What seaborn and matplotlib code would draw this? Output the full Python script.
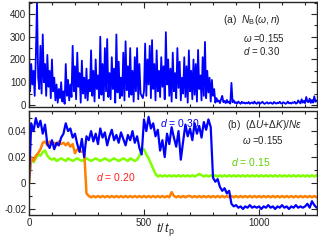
import numpy as np
import pandas as pd
import seaborn as sns
import matplotlib.pyplot as plt
from matplotlib.ticker import MultipleLocator

# --- datos ---
# panel (a): N_B(w, n), un valor cada 5 t_p (0 .. 1250)
t_top = np.arange(0, 1251, 5)
nb_vals = [
    240, 60, 180, 90, 150, 40, 210, 455, 120, 70,
    260, 50, 310, 100, 180, 40, 220, 80, 150, 30,
    200, 60, 120, 20, 90, 10, 70, 30, 100, 15,
    60, 5, 180, 40, 110, 20, 90, 35, 260, 60,
    170, 25, 230, 80, 140, 10, 195, 50, 120, 30,
    160, 20, 110, 60, 240, 40, 150, 15, 200, 70,
    130, 30, 300, 45, 180, 20, 250, 60, 290, 35,
    140, 25, 210, 70, 160, 10, 310, 55, 190, 30,
    120, 40, 230, 20, 280, 65, 170, 35, 250, 45,
    150, 15, 210, 60, 250, 25, 180, 50, 40, 30,
    60, 270, 40, 200, 90, 260, 30, 285, 70, 180,
    20, 240, 60, 150, 35, 210, 80, 170, 25, 320,
    90, 200, 40, 160, 15, 230, 60, 140, 30, 250,
    75, 190, 20, 120, 50, 210, 35, 170, 10, 240,
    60, 150, 25, 200, 45, 180, 15, 242, 70, 130,
    20, 210, 40, 277, 30, 150, 55, 120, 15, 110,
    40, 70, 10, 30, 15, 20, 8, 25, 40, 12,
    18, 8, 22, 10, 15, 6, 97, 12, 20, 8,
    12, 6, 15, 9, 5, 14, 8, 11, 6, 10,
    7, 13, 5, 9, 11, 6, 15, 8, 5, 12,
    8, 6, 10, 14, 7, 5, 9, 12, 6, 8,
    11, 7, 5, 13, 9, 6, 10, 8, 14, 7,
    6, 12, 9, 5, 8, 15, 7, 10, 6, 11,
    9, 14, 6, 8, 20, 12, 7, 25, 10, 18,
    8, 35, 15, 12, 28, 9, 22, 10, 38, 14, 20,
]

# panel (b): (dU+dK)/N eps, un valor cada 10 t_p
t_bot = np.arange(0, 1251, 10)
e_d30 = [
    0.000, 0.046, 0.040, 0.050, 0.043, 0.048, 0.038, 0.045, 0.030, 0.027,
    0.033, 0.026, 0.031, 0.029, 0.035, 0.038, 0.046, 0.040, 0.042, 0.035,
    0.038, 0.030, 0.024, 0.034, 0.020, 0.036, 0.033, 0.040, 0.032, 0.038,
    0.030, 0.042, 0.035, 0.039, 0.029, 0.036, 0.041, 0.033, 0.037, 0.031,
    0.039, 0.034, 0.029, 0.037, 0.033, 0.040, 0.031, 0.036, 0.027, 0.022,
    0.049, 0.040, 0.051, 0.042, 0.046, 0.036, 0.041, 0.025, 0.033, 0.020,
    0.038, 0.030, 0.043, 0.035, 0.028, 0.040, 0.018, 0.032, 0.045, 0.036,
    0.042, 0.033, 0.046, 0.038, 0.044, 0.035, 0.047, 0.041, 0.049, 0.043,
    0.004, 0.001, 0.003, -0.003, -0.006, -0.004, -0.008, -0.006, -0.016, -0.018,
    -0.017, -0.019, -0.018, -0.020, -0.018, -0.019, -0.017, -0.019, -0.018, -0.019,
    -0.018, -0.020, -0.018, -0.019, -0.017, -0.019, -0.018, -0.020, -0.018, -0.019,
    -0.017, -0.019, -0.018, -0.020, -0.018, -0.019, -0.017, -0.019, -0.018, -0.019,
    -0.018, -0.016, -0.019, -0.014, -0.017, -0.019,
]
e_d20 = [
    0.000, 0.020, 0.017, 0.021, 0.023, 0.026, 0.031, 0.032, 0.029, 0.032,
    0.030, 0.031, 0.029, 0.032, 0.030, 0.031, 0.029, 0.031, 0.028, 0.030,
    0.023, 0.026, 0.025, 0.024, 0.025, -0.008, -0.010, -0.011, -0.010, -0.011,
    -0.010, -0.011, -0.010, -0.011, -0.010, -0.011, -0.010, -0.011, -0.010, -0.011,
    -0.010, -0.011, -0.010, -0.011, -0.010, -0.011, -0.010, -0.011, -0.010, -0.011,
    -0.010, -0.011, -0.010, -0.011, -0.010, -0.011, -0.010, -0.011, -0.010, -0.011,
    -0.010, -0.011, -0.007, -0.010, -0.011, -0.010, -0.011, -0.010, -0.011, -0.010,
    -0.010, -0.011, -0.010, -0.011, -0.010, -0.011, -0.010, -0.011, -0.010, -0.011,
    -0.010, -0.011, -0.010, -0.011, -0.010, -0.011, -0.010, -0.011, -0.010, -0.011,
    -0.010, -0.011, -0.010, -0.011, -0.010, -0.011, -0.010, -0.011, -0.010, -0.011,
    -0.010, -0.011, -0.010, -0.011, -0.010, -0.011, -0.010, -0.011, -0.010, -0.011,
    -0.010, -0.011, -0.010, -0.011, -0.010, -0.011, -0.010, -0.011, -0.010, -0.011,
    -0.010, -0.011, -0.010, -0.011, -0.010, -0.011,
]
e_d15 = [
    0.000, 0.020, 0.016, 0.019, 0.022, 0.021, 0.024, 0.025, 0.021, 0.019,
    0.018, 0.019, 0.017, 0.018, 0.019, 0.018, 0.017, 0.019, 0.018, 0.017,
    0.018, 0.019, 0.018, 0.017, 0.018, 0.019, 0.018, 0.017, 0.018, 0.019,
    0.018, 0.017, 0.018, 0.019, 0.018, 0.017, 0.018, 0.019, 0.018, 0.017,
    0.018, 0.019, 0.018, 0.017, 0.019, 0.018, 0.017, 0.018, 0.021, 0.025,
    0.026, 0.022, 0.019, 0.015, 0.011, 0.007, 0.005, 0.006, 0.005, 0.006,
    0.005, 0.006, 0.005, 0.006, 0.005, 0.006, 0.005, 0.006, 0.005, 0.006,
    0.005, 0.006, 0.005, 0.006, 0.007, 0.006, 0.005, 0.006, 0.005, 0.006,
    0.005, 0.006, 0.005, 0.006, 0.005, 0.006, 0.005, 0.006, 0.005, 0.006,
    0.005, 0.006, 0.005, 0.006, 0.005, 0.006, 0.005, 0.006, 0.005, 0.006,
    0.005, 0.006, 0.005, 0.006, 0.005, 0.006, 0.005, 0.006, 0.005, 0.006,
    0.005, 0.006, 0.005, 0.006, 0.005, 0.006, 0.005, 0.006, 0.005, 0.006,
    0.005, 0.006, 0.005, 0.006, 0.005, 0.006,
]

blue = '#0000ff'
orange = '#ff8000'
green = '#80ff00'

sns.set_style('ticks')
plt.rcParams['font.family'] = ['Liberation Sans', 'DejaVu Sans']
plt.rcParams['mathtext.fontset'] = 'custom'
plt.rcParams['mathtext.rm'] = 'Liberation Sans'
plt.rcParams['mathtext.it'] = 'Liberation Sans:italic'

df_top = pd.DataFrame({'t': t_top, 'nb': nb_vals})
df_bot = pd.DataFrame({'t': t_bot, 'd30': e_d30, 'd20': e_d20, 'd15': e_d15})

fig = plt.figure(figsize=(3.18, 2.41), dpi=100)
ax1 = fig.add_axes([0.091, 0.556, 0.906, 0.436])
ax2 = fig.add_axes([0.091, 0.108, 0.906, 0.431])

sns.lineplot(data=df_top, x='t', y='nb', ax=ax1, color=blue, lw=1.3, estimator=None)
sns.lineplot(data=df_bot, x='t', y='d15', ax=ax2, color=green, lw=1.8, estimator=None)
sns.lineplot(data=df_bot, x='t', y='d20', ax=ax2, color=orange, lw=1.8, estimator=None)
sns.lineplot(data=df_bot, x='t', y='d30', ax=ax2, color=blue, lw=1.6, estimator=None)

ax1.set_xlim(0, 1252)
ax1.set_ylim(-9, 453)
ax2.set_xlim(0, 1252)
ax2.set_ylim(-0.0246, 0.0554)

for ax in (ax1, ax2):
    ax.set_xlabel('')
    ax.set_ylabel('')
    ax.xaxis.set_major_locator(MultipleLocator(500))
    ax.xaxis.set_minor_locator(MultipleLocator(100))
    ax.tick_params(which='both', direction='in', top=True, right=True,
                   labelsize=7, pad=2, width=0.8)
    ax.tick_params(which='major', length=4)
    ax.tick_params(which='minor', length=2)
    for s in ax.spines.values():
        s.set_linewidth(1.0)

ax1.yaxis.set_major_locator(MultipleLocator(100))
ax1.yaxis.set_minor_locator(MultipleLocator(50))
ax1.tick_params(labelbottom=False)

ax2.yaxis.set_major_locator(MultipleLocator(0.02))
ax2.yaxis.set_minor_locator(MultipleLocator(0.01))
ax2.set_yticks([-0.02, 0, 0.02, 0.04])
ax2.set_yticklabels(['-0.02', '0', '0.02', '0.04'])
ax2.set_xticks([0, 500, 1000])
ax2.set_xticklabels(['0', '500', '1000'])

ax2.set_xlabel(r'$t/\,t_\mathrm{p}$', fontsize=9)
ax2.xaxis.set_label_coords(0.475, -0.06)

# textos panel (a)
ax1.text(0.674, 0.83, r'(a)  $N_\mathrm{B}(\omega,n)$', transform=ax1.transAxes,
         fontsize=7.5, va='center')
ax1.text(0.743, 0.657, r'$\omega$ =0.155', transform=ax1.transAxes, fontsize=7, va='center')
ax1.text(0.743, 0.533, r'$d$ = 0.30', transform=ax1.transAxes, fontsize=7, va='center')

# textos panel (b)
ax2.text(0.688, 0.865, r'(b)  $(\Delta U\!+\!\Delta K)/N\varepsilon$', transform=ax2.transAxes,
         fontsize=7.3, va='center')
ax2.text(0.74, 0.72, r'$\omega$ =0.155', transform=ax2.transAxes, fontsize=7, va='center')
ax2.text(0.455, 0.885, r'$d$ = 0.30', transform=ax2.transAxes, fontsize=7.5,
         va='center', color=blue)
ax2.text(0.70, 0.51, r'$d$ = 0.15', transform=ax2.transAxes, fontsize=7.5,
         va='center', color='#60d000')
ax2.text(0.233, 0.365, r'$d$ = 0.20', transform=ax2.transAxes, fontsize=7.5,
         va='center', color='#ff2020')

fig.savefig('out.png', dpi=100)
